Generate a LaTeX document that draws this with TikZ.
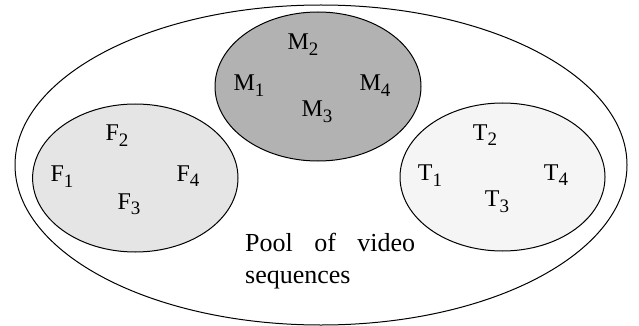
\documentclass[tikz,border=0pt]{standalone}
\usepackage{fontspec}
\setmainfont{Liberation Serif}
\newcommand\lblsub[2]{#1\raisebox{-5.5pt}{\fontsize{19}{19}\selectfont #2}}
\tikzset{
  set/.style={draw=black, line width=1pt},
  lbl/.style={anchor=base, inner sep=0pt, font=\fontsize{24}{24}\selectfont},
  txt/.style={anchor=base west, inner sep=0pt, font=\fontsize{26}{26}\selectfont}
}
\begin{document}
\begin{tikzpicture}[x=1pt,y=-1pt]
\useasboundingbox (0,0) rectangle (639,326);
\fill[white] (0,0) rectangle (639,326);
\draw[set, fill=white] (321,165) ellipse [x radius=306, y radius=160];
\draw[set, fill=black!30] (318,86.5) ellipse [x radius=103, y radius=74.5];
\draw[set, fill=black!10] (135.3,178) ellipse [x radius=102.7, y radius=74];
\draw[set, fill=black!4] (502.5,177) ellipse [x radius=102.5, y radius=74];
\node[lbl] (m2) at (303,50) {\lblsub{M}{2}};
\node[lbl] (m1) at (249,90.7) {\lblsub{M}{1}};
\node[lbl] (m4) at (375,90.7) {\lblsub{M}{4}};
\node[lbl] (m3) at (317,116.7) {\lblsub{M}{3}};
\node[lbl] (f2) at (117,140.7) {\lblsub{F}{2}};
\node[lbl] (f1) at (62,181.7) {\lblsub{F}{1}};
\node[lbl] (f4) at (188,181) {\lblsub{F}{4}};
\node[lbl] (f3) at (129,209) {\lblsub{F}{3}};
\node[lbl] (t2) at (485,140) {\lblsub{T}{2}};
\node[lbl] (t1) at (430,180.7) {\lblsub{T}{1}};
\node[lbl] (t4) at (556,180) {\lblsub{T}{4}};
\node[lbl] (t3) at (497,206.7) {\lblsub{T}{3}};
\node[txt] (pool1) at (245,251) {\makebox[170pt][s]{Pool of video}};
\node[txt] (pool2) at (245,283) {sequences};
\end{tikzpicture}
\end{document}
